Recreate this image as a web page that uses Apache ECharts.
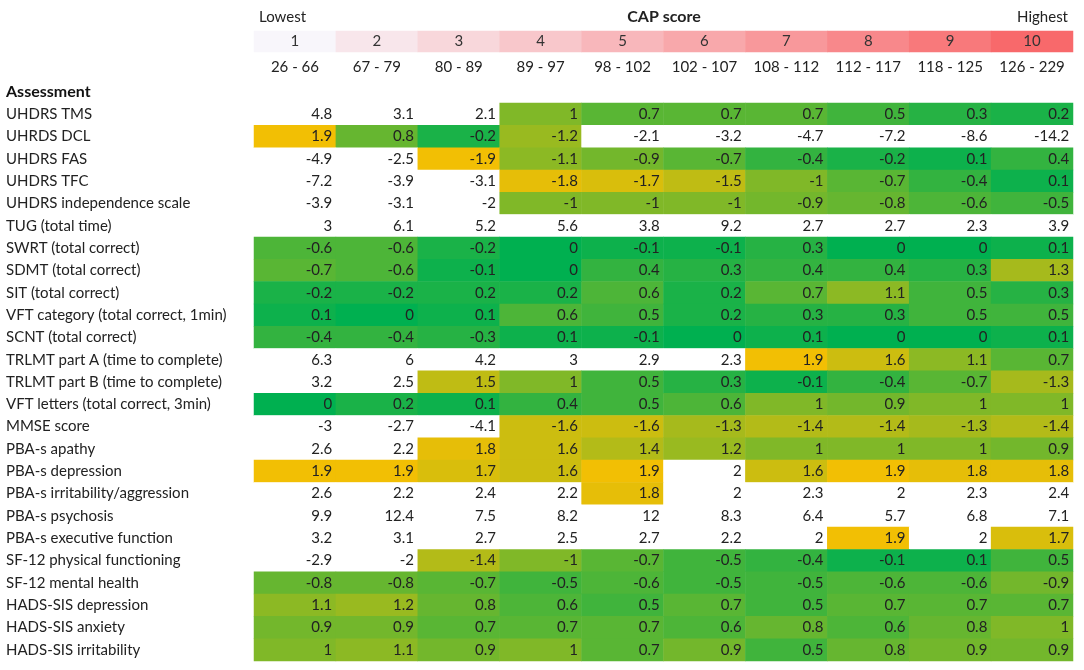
<!DOCTYPE html>
<html>
<head>
<meta charset="utf-8">
<script src="https://cdn.jsdelivr.net/npm/echarts@6/dist/echarts.min.js"></script>
<style>
  html, body { margin: 0; padding: 0; background: #fff; }
  #main { width: 1084px; height: 670px; }
</style>
</head>
<body>
<div id="main"></div>
<script>
// CAP score groups (header)
var capGroups = ['1', '2', '3', '4', '5', '6', '7', '8', '9', '10'];
var capRanges = ['26 - 66', '67 - 79', '80 - 89', '89 - 97', '98 - 102',
  '102 - 107', '108 - 112', '112 - 117', '118 - 125', '126 - 229'];

var assessments = [
  'UHDRS TMS', 'UHRDS DCL', 'UHDRS FAS', 'UHDRS TFC', 'UHDRS independence scale',
  'TUG (total time)', 'SWRT (total correct)', 'SDMT (total correct)', 'SIT (total correct)',
  'VFT category (total correct, 1min)', 'SCNT (total correct)',
  'TRLMT part A (time to complete)', 'TRLMT part B (time to complete)',
  'VFT letters (total correct, 3min)', 'MMSE score', 'PBA-s apathy', 'PBA-s depression',
  'PBA-s irritability/aggression', 'PBA-s psychosis', 'PBA-s executive function',
  'SF-12 physical functioning', 'SF-12 mental health', 'HADS-SIS depression',
  'HADS-SIS anxiety', 'HADS-SIS irritability'
];

var uhdrsTms   = [4.8, 3.1, 2.1, 1, 0.7, 0.7, 0.7, 0.5, 0.3, 0.2];
var uhdrsDcl   = [1.9, 0.8, -0.2, -1.2, -2.1, -3.2, -4.7, -7.2, -8.6, -14.2];
var uhdrsFas   = [-4.9, -2.5, -1.9, -1.1, -0.9, -0.7, -0.4, -0.2, 0.1, 0.4];
var uhdrsTfc   = [-7.2, -3.9, -3.1, -1.8, -1.7, -1.5, -1, -0.7, -0.4, 0.1];
var uhdrsIndep = [-3.9, -3.1, -2, -1, -1, -1, -0.9, -0.8, -0.6, -0.5];
var tug        = [3, 6.1, 5.2, 5.6, 3.8, 9.2, 2.7, 2.7, 2.3, 3.9];
var swrt       = [-0.6, -0.6, -0.2, 0, -0.1, -0.1, 0.3, 0, 0, 0.1];
var sdmt       = [-0.7, -0.6, -0.1, 0, 0.4, 0.3, 0.4, 0.4, 0.3, 1.3];
var sit        = [-0.2, -0.2, 0.2, 0.2, 0.6, 0.2, 0.7, 1.1, 0.5, 0.3];
var vftCat     = [0.1, 0, 0.1, 0.6, 0.5, 0.2, 0.3, 0.3, 0.5, 0.5];
var scnt       = [-0.4, -0.4, -0.3, 0.1, -0.1, 0, 0.1, 0, 0, 0.1];
var trlmtA     = [6.3, 6, 4.2, 3, 2.9, 2.3, 1.9, 1.6, 1.1, 0.7];
var trlmtB     = [3.2, 2.5, 1.5, 1, 0.5, 0.3, -0.1, -0.4, -0.7, -1.3];
var vftLetters = [0, 0.2, 0.1, 0.4, 0.5, 0.6, 1, 0.9, 1, 1];
var mmse       = [-3, -2.7, -4.1, -1.6, -1.6, -1.3, -1.4, -1.4, -1.3, -1.4];
var pbaApathy  = [2.6, 2.2, 1.8, 1.6, 1.4, 1.2, 1, 1, 1, 0.9];
var pbaDepr    = [1.9, 1.9, 1.7, 1.6, 1.9, 2, 1.6, 1.9, 1.8, 1.8];
var pbaIrrit   = [2.6, 2.2, 2.4, 2.2, 1.8, 2, 2.3, 2, 2.3, 2.4];
var pbaPsych   = [9.9, 12.4, 7.5, 8.2, 12, 8.3, 6.4, 5.7, 6.8, 7.1];
var pbaExec    = [3.2, 3.1, 2.7, 2.5, 2.7, 2.2, 2, 1.9, 2, 1.7];
var sfPhys     = [-2.9, -2, -1.4, -1, -0.7, -0.5, -0.4, -0.1, 0.1, 0.5];
var sfMental   = [-0.8, -0.8, -0.7, -0.5, -0.6, -0.5, -0.5, -0.6, -0.6, -0.9];
var hadsDepr   = [1.1, 1.2, 0.8, 0.6, 0.5, 0.7, 0.5, 0.7, 0.7, 0.7];
var hadsAnx    = [0.9, 0.9, 0.7, 0.7, 0.7, 0.6, 0.8, 0.6, 0.8, 1];
var hadsIrrit  = [1, 1.1, 0.9, 1, 0.7, 0.9, 0.5, 0.8, 0.9, 0.9];

var rows = [uhdrsTms, uhdrsDcl, uhdrsFas, uhdrsTfc, uhdrsIndep, tug, swrt, sdmt, sit,
  vftCat, scnt, trlmtA, trlmtB, vftLetters, mmse, pbaApathy, pbaDepr, pbaIrrit,
  pbaPsych, pbaExec, sfPhys, sfMental, hadsDepr, hadsAnx, hadsIrrit];

// [col, row, value, |value|]  (colour goes by absolute value, >= 2 stays white)
var cells = [];
rows.forEach(function (r, j) {
  r.forEach(function (v, i) {
    cells.push([i, j, v, Math.abs(v)]);
  });
});
var headerCells = capGroups.map(function (c, i) { return [i, 0, +c]; });

var font = 'Lato';
var myChart = echarts.init(document.getElementById('main'));
var option = {
  backgroundColor: '#fff',
  textStyle: { fontFamily: font },
  grid: [
    { left: 254, right: 11, top: 103, bottom: 9 },
    { left: 254, right: 11, top: 31, height: 21 }
  ],
  xAxis: [
    { type: 'category', gridIndex: 0, data: capGroups, show: false },
    {
      type: 'category', gridIndex: 1, data: capRanges, position: 'bottom',
      axisLine: { show: false }, axisTick: { show: false },
      axisLabel: { margin: 8, fontSize: 15, color: '#222', fontFamily: font, interval: 0 }
    }
  ],
  yAxis: [
    {
      type: 'category', gridIndex: 0, data: assessments, inverse: true,
      axisLine: { show: false }, axisTick: { show: false },
      axisLabel: { align: 'left', margin: 248, fontSize: 15, color: '#222', fontFamily: font, interval: 0 }
    },
    { type: 'category', gridIndex: 1, data: ['cap'], show: false }
  ],
  visualMap: [
    {
      show: false, type: 'continuous', seriesIndex: 0, dimension: 3,
      min: 0, max: 2, range: [0, 1.99],
      inRange: { color: ['#00b050', '#ffc000'] },
      outOfRange: { color: '#ffffff' }
    },
    {
      show: false, type: 'continuous', seriesIndex: 1, dimension: 2,
      min: 1, max: 10,
      inRange: { color: ['#f8f6fb', '#f8696b'] }
    }
  ],
  series: [
    {
      type: 'heatmap', xAxisIndex: 0, yAxisIndex: 0, data: cells,
      label: {
        show: true, position: 'insideRight', distance: 4,
        fontSize: 15, color: '#222', fontFamily: font,
        formatter: function (p) { return String(p.value[2]); }
      },
      itemStyle: { borderWidth: 0 },
      emphasis: { disabled: true }
    },
    {
      type: 'heatmap', xAxisIndex: 1, yAxisIndex: 1, data: headerCells,
      label: {
        show: true, fontSize: 15, color: '#333', fontFamily: font,
        formatter: function (p) { return String(p.value[2]); }
      },
      emphasis: { disabled: true }
    }
  ],
  graphic: [
    { type: 'text', x: 259, y: 10, style: { text: 'Lowest', font: '15px ' + font, fill: '#222' } },
    { type: 'text', x: 664, y: 9, style: { text: 'CAP score', font: 'bold 16px ' + font, fill: '#222', textAlign: 'center' } },
    { type: 'text', x: 1068, y: 10, style: { text: 'Highest', font: '15px ' + font, fill: '#222', textAlign: 'right' } },
    { type: 'text', x: 6, y: 84, style: { text: 'Assessment', font: 'bold 16px ' + font, fill: '#111' } }
  ]
};
myChart.setOption(option);
</script>
</body>
</html>
